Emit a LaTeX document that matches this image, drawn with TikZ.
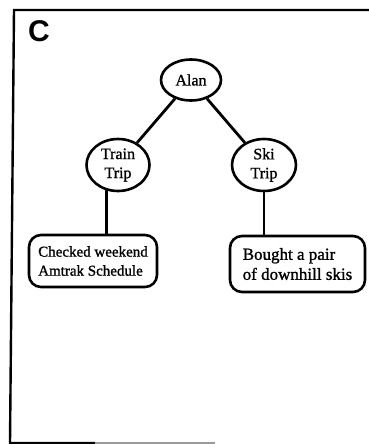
\documentclass[tikz,border=0pt]{standalone}
\usepackage{fontspec}
\setmainfont{Liberation Serif}[FakeBold=1.2]
\newfontfamily\panelfont{Liberation Sans}
\usetikzlibrary{shapes.geometric}

\begin{document}
\begin{tikzpicture}[x=1pt,y=-1pt,
event/.style={draw,ellipse,line width=2.6pt,inner sep=0pt,align=center,
    font=\fontsize{16}{19}\selectfont},
note/.style={draw,rectangle,rounded corners=12pt,line width=2.6pt,
    inner sep=0pt,align=left},
link/.style={line width=2.8pt}]
\useasboundingbox (0,0) rectangle (369,444);
% panel frame
\draw[line width=2.4pt] (369,10) -- (14,10) -- (10,443) -- (95,443);
\draw[line width=1.6pt,black!40] (95,443) -- (215,443);
\node (panel) at (39,31) {\panelfont\bfseries\fontsize{30}{30}\selectfont C};

\node (alan) [event,minimum width=60pt,minimum height=41pt] at (191,80) {Alan};
\node (train) [event,minimum width=63pt,minimum height=52pt] at (118,165) {Train\\Trip};
\node (ski) [event,minimum width=64pt,minimum height=52pt] at (264,165) {Ski\\Trip};
\node (trainnote) [note,minimum width=128pt,minimum height=52pt,
    font=\fontsize{15}{19}\selectfont] at (93,261) {Checked weekend\\Amtrak Schedule};
\node (skinote) [note,minimum width=135pt,minimum height=56pt,
    font=\fontsize{17}{20}\selectfont] at (297.5,264) {Bought a pair\\of downhill skis};

\draw[link] (alan) -- (train);
\draw[link] (alan) -- (ski);
\draw[link] (train.245) -- (train.245 |- trainnote.north);
\draw[link] (ski.south) -- (ski.south |- skinote.north);
\end{tikzpicture}
\end{document}
